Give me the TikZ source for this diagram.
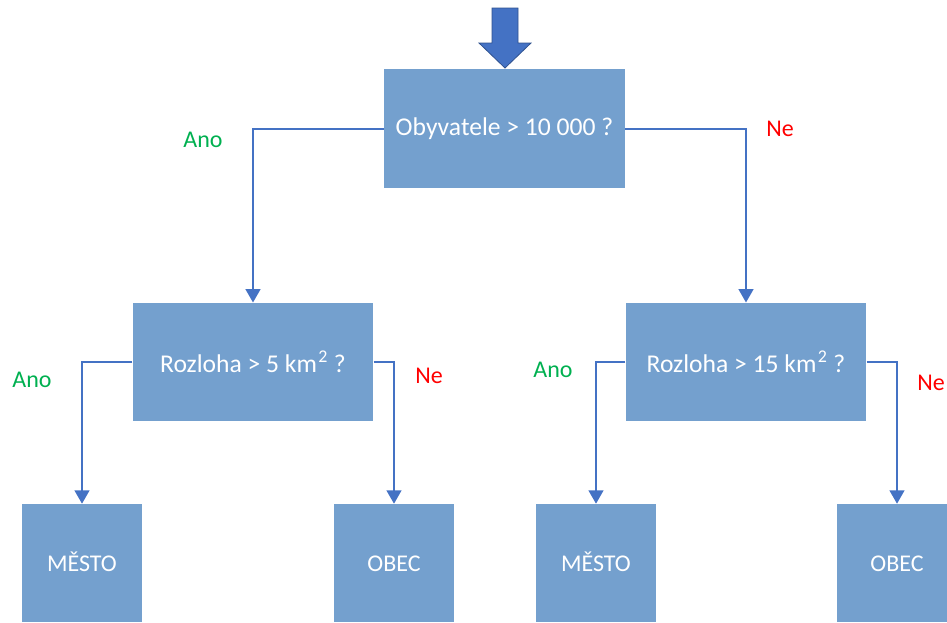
\documentclass[tikz,border=0pt]{standalone}
\usepackage{fontspec}
\setmainfont{Carlito}
\usepackage{xcolor}
\usetikzlibrary{positioning,arrows.meta}

\definecolor{boxblue}{RGB}{116,160,206}
\definecolor{linkblue}{RGB}{68,114,196}
\definecolor{arrowedge}{RGB}{47,82,143}
\definecolor{anogreen}{RGB}{0,176,80}
\definecolor{nered}{RGB}{255,0,0}

\begin{document}
\begin{tikzpicture}[x=0.75pt, y=-0.75pt,
    every node/.style={font=\fontsize{18}{21}\selectfont},
    question/.style={rectangle, fill=boxblue, text=white, minimum width=180.5pt, minimum height=88.8pt, inner sep=0pt,
        font=\fontsize{19.2}{22}\selectfont},
    leaf/.style={rectangle, fill=boxblue, text=white, minimum width=90pt, minimum height=88.5pt, inner sep=0pt,
        text height=12pt, text depth=0pt},
    link/.style={draw=linkblue, line width=1.5pt, -{Triangle[width=11pt, length=10pt]}},
    yes/.style={text=anogreen},
    no/.style={text=nered}]
    \useasboundingbox (0,0) rectangle (947,622);

    % input arrow on top
    \draw[fill=linkblue, draw=arrowedge, line width=0.6pt]
        (492,8) -- (518,8) -- (518,43) -- (531,43) -- (505,68) -- (479,43) -- (492,43) -- cycle;

    \node[question] (root) at (504.5,128.5) {Obyvatele > 10 000 ?};

    \node[question] (small) at (253,362) {Rozloha > 5 km\kern1pt\textsuperscript{2} ?};
    \node[question] (large) at (746,362) {Rozloha > 15 km\kern1pt\textsuperscript{2} ?};

    \node[leaf] (town1) at (82,563) {MĚSTO};
    \node[leaf] (vill1) at (394,563) {OBEC};
    \node[leaf] (town2) at (596,563) {MĚSTO};
    \node[leaf] (vill2) at (897,563) {OBEC};

    \draw[link] (root.west) -| (small.north);
    \draw[link] (root.east) -| (large.north);
    \draw[link] (small.west) -| (town1.north);
    \draw[link] (small.east) -| (vill1.north);
    \draw[link] (large.west) -| (town2.north);
    \draw[link] (large.east) -| (vill2.north);

    \node[yes] (ano1) at (203,140) {Ano};
    \node[no] (ne1) at (780,129) {Ne};
    \node[yes] (ano2) at (32,380) {Ano};
    \node[no] (ne2) at (429,376) {Ne};
    \node[yes] (ano3) at (553,370) {Ano};
    \node[no] (ne3) at (931,383) {Ne};
\end{tikzpicture}
\end{document}
